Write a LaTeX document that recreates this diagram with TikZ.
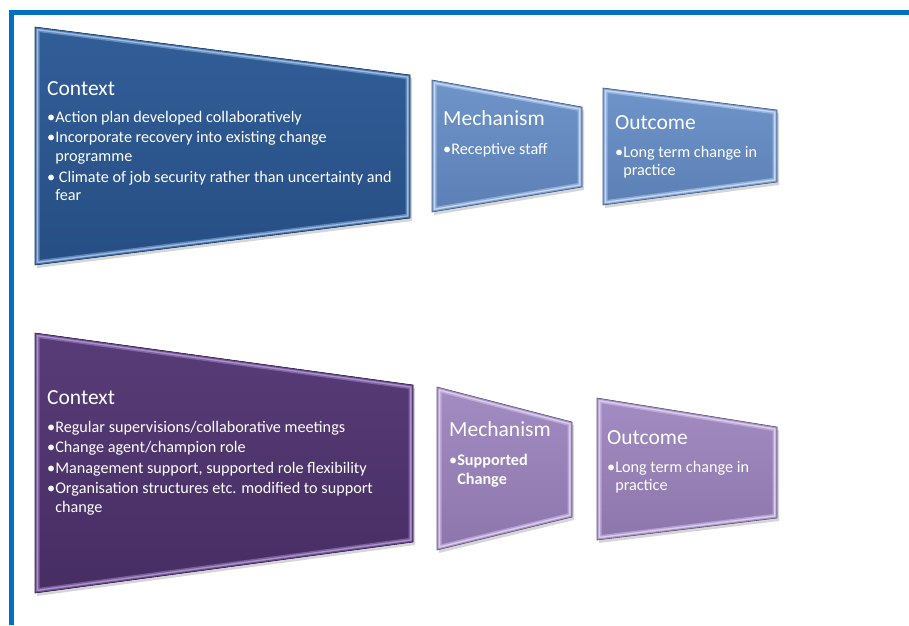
\documentclass[tikz,border=0pt]{standalone}
\usepackage{fontspec}
\setmainfont{Carlito}
\usepackage{tikz}
\usetikzlibrary{positioning, calc}
\definecolor{cmFrame}{RGB}{0, 112, 192}
\definecolor{cmBlueTop}{RGB}{50, 94, 152}
\definecolor{cmBlueBot}{RGB}{38, 78, 132}
\definecolor{cmBlueMid}{RGB}{78, 118, 172}
\definecolor{cmBlueLight}{RGB}{155, 188, 228}
\definecolor{cmSkyTop}{RGB}{110, 148, 202}
\definecolor{cmSkyBot}{RGB}{92, 128, 182}
\definecolor{cmSkyMid}{RGB}{128, 162, 212}
\definecolor{cmSkyLight}{RGB}{195, 214, 242}
\definecolor{cmPlumTop}{RGB}{88, 60, 120}
\definecolor{cmPlumBot}{RGB}{70, 45, 98}
\definecolor{cmPlumMid}{RGB}{112, 82, 148}
\definecolor{cmPlumLight}{RGB}{170, 145, 205}
\definecolor{cmLilacTop}{RGB}{162, 140, 194}
\definecolor{cmLilacBot}{RGB}{140, 118, 172}
\definecolor{cmLilacMid}{RGB}{172, 152, 202}
\definecolor{cmLilacLight}{RGB}{218, 204, 238}
\tikzset{
    frame/.style={
        draw=cmFrame,
        line width=5.5pt,
        line join=miter
    },
    title/.style={
        font=\fontsize{21.5}{24}\selectfont,
        text=white,
        inner sep=0pt,
        anchor=base west
    },
    bullets/.style={
        font=\fontsize{16.2}{18.5}\selectfont,
        text=white,
        inner sep=0pt,
        align=left,
        execute at begin node={\rule{0pt}{12pt}}
    },
    shadowfill/.style={
        fill=black,
        opacity=0.16
    }
}
% four corners, then colour prefix
\newcommand{\slab}[5]{%
  \fill[shadowfill, xshift=2pt, yshift=-3pt] #1 -- #2 -- #3 -- #4 -- cycle;
  \shade[top color=#5Top, bottom color=#5Bot] #1 -- #2 -- #3 -- #4 -- cycle;
  \begin{scope}
    \clip #1 -- #2 -- #3 -- #4 -- cycle;
    \draw[#5Light, opacity=0.5, line width=9pt, line join=miter] #1 -- #2 -- #3 -- #4 -- cycle;
    \draw[#5Light, line width=6pt, line join=miter] #1 -- #2 -- #3 -- #4 -- cycle;
    \draw[#5Mid, line width=3pt, line join=miter] #1 -- #2 -- #3 -- #4 -- cycle;
  \end{scope}
  \draw[#5Bot!70!black, line width=0.6pt] #1 -- #2 -- #3 -- #4 -- cycle;
}
\newcommand{\cont}{\phantom{\textbullet}}

\begin{document}
\begin{tikzpicture}[x=1pt, y=-1pt]
  \useasboundingbox (0,0) rectangle (909,625);
  \fill[white] (0,0) rectangle (909,625);

  % Frame
  \draw[frame] (909,12.5) -- (11.5,12.5) -- (11.5,625);

  % Upper row
  \slab{(35,27)}{(410,75)}{(410,218)}{(35,265)}{cmBlue}
  \slab{(432,80)}{(582,107)}{(582,187)}{(432,212)}{cmSky}
  \slab{(603,88)}{(777,110)}{(777,182)}{(603,205)}{cmSky}

  \node[title] (ctxA) at (47,95) {Context};
  \node[bullets, below=16pt of ctxA.base west, anchor=north west] (ctxAb) {%
    \textbullet Action plan developed collaboratively\\[2pt]
    \textbullet Incorporate recovery into existing change\\
    \cont programme\\[2.5pt]
    \textbullet\ Climate of job security rather than uncertainty and\\
    \cont fear};

  \node[title] (mechA) at (443,125) {Mechanism};
  \node[bullets, below=17pt of mechA.base west, anchor=north west] (mechAb) {%
    \textbullet Receptive staff};

  \node[title] (outA) at (615,129) {Outcome};
  \node[bullets, below=17pt of outA.base west, anchor=north west] (outAb) {%
    \textbullet Long term change in\\
    \cont practice};

  % Lower row
  \slab{(35,333)}{(413,385)}{(413,542)}{(35,593)}{cmPlum}
  \slab{(437,387)}{(572,422)}{(572,517)}{(437,550)}{cmLilac}
  \slab{(597,398)}{(777,427)}{(777,518)}{(597,540)}{cmLilac}

  \node[title] (ctxB) at (47,404) {Context};
  \node[bullets, below=17pt of ctxB.base west, anchor=north west] (ctxBb) {%
    \textbullet Regular supervisions/collaborative meetings\\[2pt]
    \textbullet Change agent/champion role\\[2pt]
    \textbullet Management support, supported role flexibility\\[2pt]
    \textbullet Organisation structures etc. modified to support\\
    \cont change};

  \node[title] (mechB) at (449,436) {Mechanism};
  \node[bullets, below=18pt of mechB.base west, anchor=north west] (mechBb) {%
    \textbullet\textbf{Supported}\\
    \cont\textbf{Change}};

  \node[title] (outB) at (607,444) {Outcome};
  \node[bullets, below=17pt of outB.base west, anchor=north west] (outBb) {%
    \textbullet Long term change in\\
    \cont practice};
\end{tikzpicture}
\end{document}
